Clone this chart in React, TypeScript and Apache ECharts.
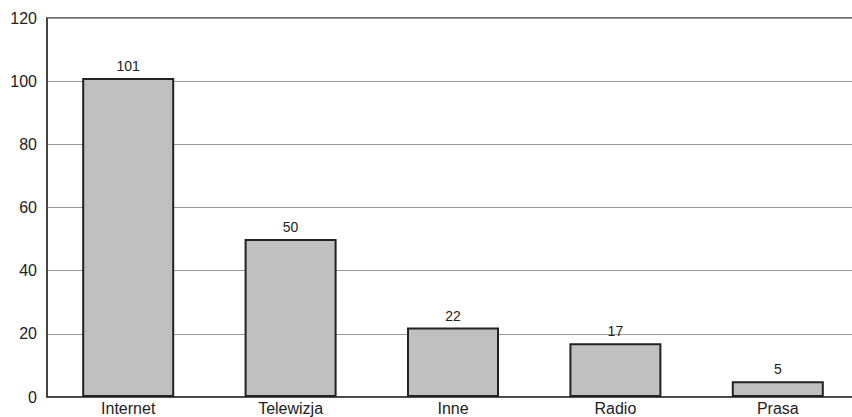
import React, { useEffect, useRef } from "react";
import * as echarts from "echarts";

const categories = ["Internet", "Telewizja", "Inne", "Radio", "Prasa"];
const values = [101, 50, 22, 17, 5];
const yMin = 0;
const yMax = 120;
const yInterval = 20;

export default function App() {
  const ref = useRef<HTMLDivElement>(null);
  useEffect(() => {
    if (!ref.current) return;
    const chart = echarts.init(ref.current, null, { renderer: "svg" });
    chart.setOption({
      animation: false,
      backgroundColor: "#ffffff",
      textStyle: { fontFamily: "Liberation Sans, Arial, sans-serif" },
      grid: {
        left: 47,
        right: 1,
        top: 18,
        bottom: 20,
        containLabel: false,
        show: true,
        borderColor: "#3a3a3a",
        borderWidth: 1.5,
        backgroundColor: "transparent",
      },
      xAxis: {
        type: "category",
        data: categories,
        axisLine: { show: true, lineStyle: { color: "#3a3a3a", width: 1.5 } },
        axisTick: { show: false },
        axisLabel: { color: "#222", fontSize: 16, margin: 3 },
      },
      yAxis: {
        type: "value",
        min: yMin,
        max: yMax,
        interval: yInterval,
        axisLine: { show: true, lineStyle: { color: "#3a3a3a", width: 1.5 } },
        axisTick: { show: false },
        axisLabel: { color: "#222", fontSize: 16, margin: 10 },
        splitLine: { show: true, lineStyle: { color: "#9a9a9a", width: 1.2 } },
      },
      series: [
        {
          type: "bar",
          data: values,
          barWidth: 92,
          itemStyle: { color: "#c0c0c0", borderColor: "#222", borderWidth: 2 },
          label: {
            show: true,
            position: "top",
            distance: 5,
            color: "#222",
            fontSize: 14,
          },
        },
      ],
    });
    return () => chart.dispose();
  }, []);
  return (
    <div
      style={{
        position: "fixed",
        left: 0,
        top: 0,
        width: 852,
        height: 417,
        overflow: "hidden",
        background: "#fff",
      }}
    >
      <div ref={ref} style={{ width: 860, height: 417 }} />
    </div>
  );
}
